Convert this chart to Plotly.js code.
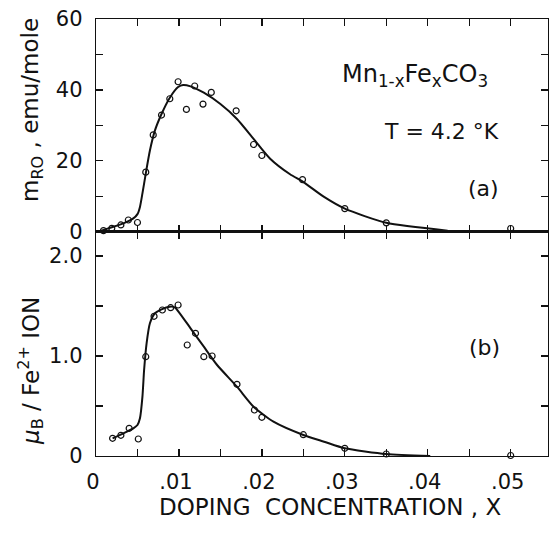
<!DOCTYPE html>
<html>
<head>
<meta charset="utf-8">
<script src="https://cdn.plot.ly/plotly-3.0.1.min.js"></script>
<style>html,body{margin:0;padding:0;background:#fff;}#chart{width:550px;height:533px;}</style>
</head>
<body>
<div id="chart"></div>
<script>
// (a) magnetization data points
var xA = [0.0009,0.0019,0.0030,0.0039,0.0050,0.0060,0.0069,0.0079,0.0089,0.0099,0.0109,0.0119,0.0129,0.0139,0.0169,0.0190,0.0200,0.0249,0.0300,0.0350,0.0500];
var mRO = [0.3,0.95,1.9,3.3,2.6,16.8,27.3,32.9,37.5,42.3,34.5,41.1,36.0,39.3,34.1,24.6,21.5,14.7,6.5,2.5,0.9];
// (a) fitted curve
var xCurveA = [0.0005,0.0009,0.0033,0.0045,0.0050,0.0053,0.0056,0.0060,0.0065,0.0071,0.0079,0.0089,0.0099,0.0105,0.0114,0.0130,0.0150,0.0170,0.0190,0.0210,0.0234,0.0250,0.0275,0.0300,0.0350,0.0424];
var mCurveA = [0.2,0.5,2.35,3.75,4.96,7.0,10.8,16.4,22.9,28.5,33.2,37.8,40.8,41.4,41.0,39.2,36.0,31.8,26.2,20.6,16.2,14.0,9.8,6.5,2.5,0.3];
// (b) moment per Fe ion data points
var xB = [0.0020,0.0030,0.0040,0.0051,0.0060,0.0070,0.0080,0.0090,0.0099,0.0110,0.0120,0.0130,0.0140,0.0170,0.0191,0.0200,0.0250,0.0300,0.0350,0.0500];
var muB = [0.177,0.207,0.277,0.17,0.993,1.397,1.46,1.483,1.51,1.11,1.227,0.993,1.0,0.717,0.46,0.387,0.213,0.077,0.02,0.005];
// (b) fitted curve
var xCurveB = [0.0020,0.0033,0.0045,0.0050,0.0053,0.0056,0.0058,0.0061,0.0065,0.0071,0.0079,0.0089,0.0095,0.0101,0.0114,0.0130,0.0146,0.0170,0.0190,0.0214,0.0250,0.0275,0.0300,0.0350,0.0403];
var muCurveB = [0.177,0.227,0.277,0.31,0.377,0.593,0.86,1.127,1.327,1.427,1.467,1.493,1.487,1.427,1.277,1.093,0.91,0.693,0.493,0.343,0.21,0.143,0.077,0.02,0.0];
// ticks
var xTickVals = [0,0.005,0.01,0.015,0.02,0.025,0.03,0.035,0.04,0.045,0.05];
var xTickText = ['0','','.01','','.02','','.03','','.04','','.05'];
var yATickVals = [0,10,20,30,40,50,60];
var yATickText = ['0','','20','','40','','60'];
var yBTickVals = [0,0.5,1.0,1.5,2.0];
var yBTickText = ['0','','1.0','','2.0'];

var INK = '#111';
var FONT = 'DejaVu Sans, sans-serif';

var traces = [
  {x: xCurveA, y: mCurveA, xaxis:'x2', yaxis:'y2', mode:'lines', line:{color:INK, width:2, shape:'spline', smoothing:0.6}, hoverinfo:'skip'},
  {x: xA, y: mRO, xaxis:'x2', yaxis:'y2', mode:'markers', cliponaxis:false, marker:{symbol:'circle-open', size:6, color:INK, line:{width:1.2, color:INK}}},
  {x: xCurveB, y: muCurveB, xaxis:'x', yaxis:'y', mode:'lines', line:{color:INK, width:2, shape:'spline', smoothing:0.6}, hoverinfo:'skip'},
  {x: xB, y: muB, xaxis:'x', yaxis:'y', mode:'markers', cliponaxis:false, marker:{symbol:'circle-open', size:6, color:INK, line:{width:1.2, color:INK}}}
];

function axisBase(extra){
  var a = {showline:true, linecolor:INK, linewidth:1.3, mirror:'ticks', ticks:'inside', ticklen:7, tickwidth:1.3, tickcolor:INK,
    showgrid:false, zeroline:false, tickfont:{family:FONT, size:21, color:INK}};
  for (var k in extra) a[k] = extra[k];
  return a;
}

var split = 224.3/437;
var layout = {
  width:550, height:533,
  margin:{l:96, r:2, t:19, b:77},
  paper_bgcolor:'#fff', plot_bgcolor:'#fff',
  showlegend:false,
  xaxis: axisBase({domain:[0,1], range:[0,0.0545], anchor:'y', tickmode:'array', tickvals:xTickVals, ticktext:xTickText, ticklabelstandoff:6, ticklabelshift:-3}),
  xaxis2: axisBase({domain:[0,1], range:[0,0.0545], anchor:'y2', matches:'x', tickmode:'array', tickvals:xTickVals, ticktext:xTickText, showticklabels:false}),
  yaxis: axisBase({domain:[0,split], range:[0,2.243], anchor:'x', tickmode:'array', tickvals:yBTickVals, ticktext:yBTickText, ticklabelstandoff:8}),
  yaxis2: axisBase({domain:[split,1], range:[0,60], anchor:'x2', tickmode:'array', tickvals:yATickVals, ticktext:yATickText, ticklabelstandoff:8}),
  annotations:[
    {xref:'paper', yref:'paper', x:(330-96)/452, y:(533-77-507)/437, text:'DOPING&nbsp;&nbsp;CONCENTRATION , X', showarrow:false, xanchor:'center', yanchor:'middle', font:{family:FONT, size:23, color:INK}},
    {xref:'paper', yref:'paper', x:(32-96)/452, y:(456-110)/437, text:'m<sub>RO</sub> , emu/mole', textangle:-90, showarrow:false, xanchor:'center', yanchor:'middle', font:{family:FONT, size:23, color:INK}},
    {xref:'paper', yref:'paper', x:(30-96)/452, y:(456-371)/437, text:'<i>μ</i><sub>B</sub> / Fe<sup>2+</sup> ION', textangle:-90, showarrow:false, xanchor:'center', yanchor:'middle', font:{family:FONT, size:23, color:INK}},
    {xref:'paper', yref:'paper', x:(415-96)/452, y:(456-75)/437, text:'Mn<sub>1-x</sub>Fe<sub>x</sub>CO<sub>3</sub>', showarrow:false, xanchor:'center', yanchor:'middle', font:{family:FONT, size:24, color:INK}},
    {xref:'paper', yref:'paper', x:(441-96)/452, y:(456-131)/437, text:'T = 4.2 °K', showarrow:false, xanchor:'center', yanchor:'middle', font:{family:FONT, size:22, color:INK}},
    {xref:'paper', yref:'paper', x:(483-96)/452, y:(456-188)/437, text:'(a)', showarrow:false, xanchor:'center', yanchor:'middle', font:{family:FONT, size:22, color:INK}},
    {xref:'paper', yref:'paper', x:(484-96)/452, y:(456-347)/437, text:'(b)', showarrow:false, xanchor:'center', yanchor:'middle', font:{family:FONT, size:22, color:INK}}
  ]
};

Plotly.newPlot('chart', traces, layout, {staticPlot:true, displayModeBar:false});
</script>
</body>
</html>
